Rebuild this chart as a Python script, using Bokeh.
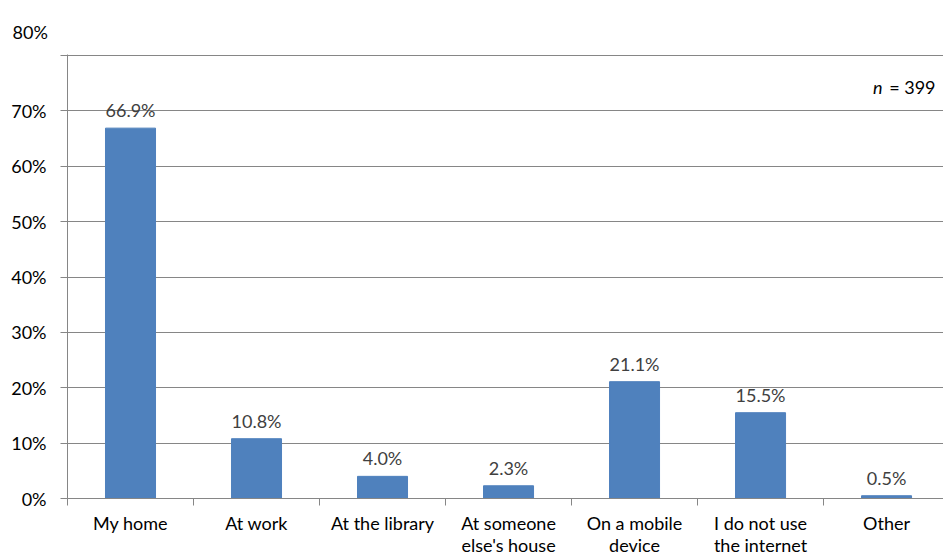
from bokeh.plotting import figure
from bokeh.models import Range1d, FixedTicker, ColumnDataSource, Label
from bokeh.core.properties import value
from bokeh.embed import file_html
from bokeh.resources import INLINE

categories = ["My home", "At work", "At the library", "At someone\nelse's house",
              "On a mobile\ndevice", "I do not use\nthe internet", "Other"]
percent = [66.9, 10.8, 4.0, 2.3, 21.1, 15.5, 0.5]
value_labels = ["66.9%", "10.8%", "4.0%", "2.3%", "21.1%", "15.5%", "0.5%"]
y_ticks = [0, 10, 20, 30, 40, 50, 60, 70, 80]
sample_note = "= 399"

FONT = "Lato"
GREY = "#868686"
n = len(categories)
centers = [i + 0.5 for i in range(n)]

src = ColumnDataSource(dict(x=centers, top=percent, lab=value_labels))

p = figure(width=943, height=558, output_backend="svg", toolbar_location=None,
           x_range=Range1d(0, 6.952), y_range=Range1d(0, 80.2),
           min_border_top=54, min_border_right=0, min_border_left=67, min_border_bottom=0,
           title="80%")
p.outline_line_color = None
p.background_fill_color = "white"

# displaced top tick label rendered as the title
p.title.align = "left"
p.title.vertical_align = "top"
p.title.offset = -55
p.title.standoff = 20
p.title.text_font = FONT
p.title.text_font_size = "18px"
p.title.text_font_style = "normal"
p.title.text_color = "#000000"

p.vbar(x="x", top="top", width=0.397, bottom=0, source=src, color="#4F81BD")
p.text(x="x", y="top", text="lab", source=src, text_align="center", text_baseline="middle",
       y_offset=-18, text_font=value(FONT), text_font_size="18px", text_color="#404040")

# x axis
p.xaxis.ticker = FixedTicker(ticks=centers, minor_ticks=list(range(n + 1)))
p.xaxis.major_label_overrides = {c: lab for c, lab in zip(centers, categories)}
p.xaxis.major_tick_line_color = None
p.xaxis.major_tick_out = 0
p.xaxis.major_tick_in = 0
p.xaxis.minor_tick_out = 7
p.xaxis.minor_tick_in = 0
p.xaxis.minor_tick_line_color = GREY
p.xaxis.axis_line_color = GREY
p.xaxis.major_label_standoff = 6
p.xaxis.major_label_text_font = FONT
p.xaxis.major_label_text_font_size = "18px"
p.xaxis.major_label_text_line_height = 1.0
p.xaxis.major_label_text_color = "#000000"
p.xgrid.grid_line_color = None

# y axis
p.yaxis.ticker = FixedTicker(ticks=y_ticks)
p.yaxis.major_label_overrides = {t: ("" if t == 80 else f"{t}%") for t in y_ticks}
p.yaxis.minor_tick_line_color = None
p.yaxis.major_tick_out = 7
p.yaxis.major_tick_in = 0
p.yaxis.major_tick_line_color = GREY
p.yaxis.axis_line_color = GREY
p.yaxis.major_label_standoff = 14
p.yaxis.major_label_text_font = FONT
p.yaxis.major_label_text_font_size = "18px"
p.yaxis.major_label_text_color = "#000000"
p.ygrid.ticker = FixedTicker(ticks=y_ticks)
p.ygrid.grid_line_color = GREY
p.ygrid.grid_line_width = 1

# n = 399 note
p.add_layout(Label(x=6.889, y=74.3, text=sample_note, text_align="right", text_baseline="middle",
                   text_font=FONT, text_font_size="18px", text_color="#000000"))
p.add_layout(Label(x=6.889, y=74.3, x_offset=-53, text="n", text_align="right",
                   text_baseline="middle", text_font=FONT, text_font_size="18px",
                   text_font_style="italic", text_color="#000000"))

open("out.html", "w").write(file_html(p, INLINE))
